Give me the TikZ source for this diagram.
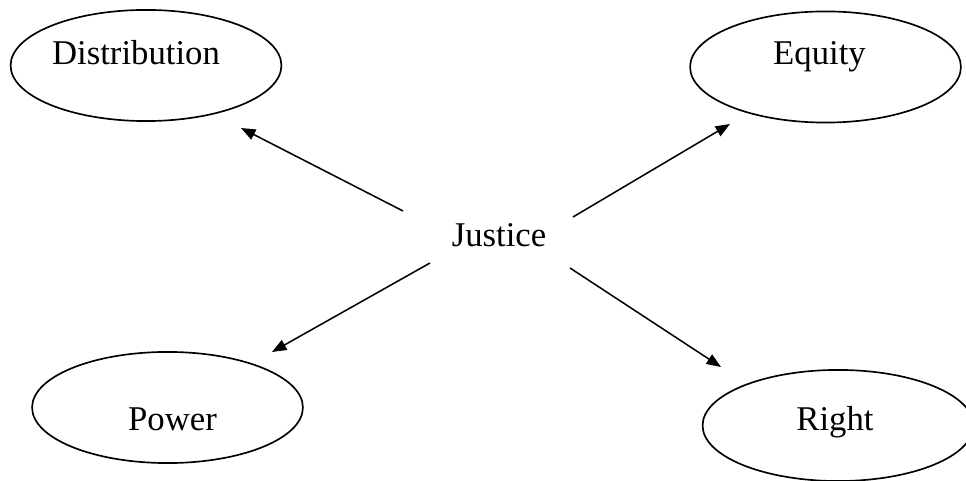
\documentclass[tikz,border=0pt]{standalone}
\usepackage{fontspec}
\setmainfont{Liberation Serif}
\usetikzlibrary{shapes.geometric,arrows.meta}

\begin{document}
\begin{tikzpicture}[x=0.36pt, y=-0.36pt,
    blob/.style={
        draw,
        ellipse,
        line width=0.6pt,
        minimum width=97.5pt,
        minimum height=40pt,
        inner sep=0pt
    },
    word/.style={
        font=\fontsize{12.5}{15}\selectfont,
        inner sep=0pt,
        text height=8.5pt,
        text depth=0pt
    },
    link/.style={
        line width=0.55pt,
        -{Triangle[length=5.2pt, width=4pt]}
    }
]

\useasboundingbox (0,0) rectangle (966,481);
\clip (0,0) rectangle (966,481);

% --- Centre ---
\node[word, anchor=base] (justice) at (499,247) {Justice};

% --- Ellipses ---
\node[blob, label={[word, xshift=-10*0.36pt, yshift=12.3*0.36pt]center:Distribution}] (dist) at (146,65.5) {};
\node[blob, label={[word, xshift=-6*0.36pt, yshift=13.8*0.36pt]center:Equity}] (equity) at (825.5,67) {};
\node[blob, label={[word, xshift=5*0.36pt, yshift=-10.7*0.36pt]center:Power}] (power) at (167.5,407.5) {};
\node[blob, label={[word, xshift=-3*0.36pt, yshift=7.3*0.36pt]center:Right}] (right) at (838,425.5) {};

% --- Arrow ends ---
\coordinate (dist-from) at (403,211);
\coordinate (dist-to) at (241,128);
\coordinate (equity-from) at (573,217);
\coordinate (equity-to) at (730,124);
\coordinate (power-from) at (430,263);
\coordinate (power-to) at (272,352);
\coordinate (right-from) at (570,268);
\coordinate (right-to) at (721,367);

% --- Arrows ---
\draw[link] (dist-from) -- (dist-to);
\draw[link] (equity-from) -- (equity-to);
\draw[link] (power-from) -- (power-to);
\draw[link] (right-from) -- (right-to);

\end{tikzpicture}
\end{document}
